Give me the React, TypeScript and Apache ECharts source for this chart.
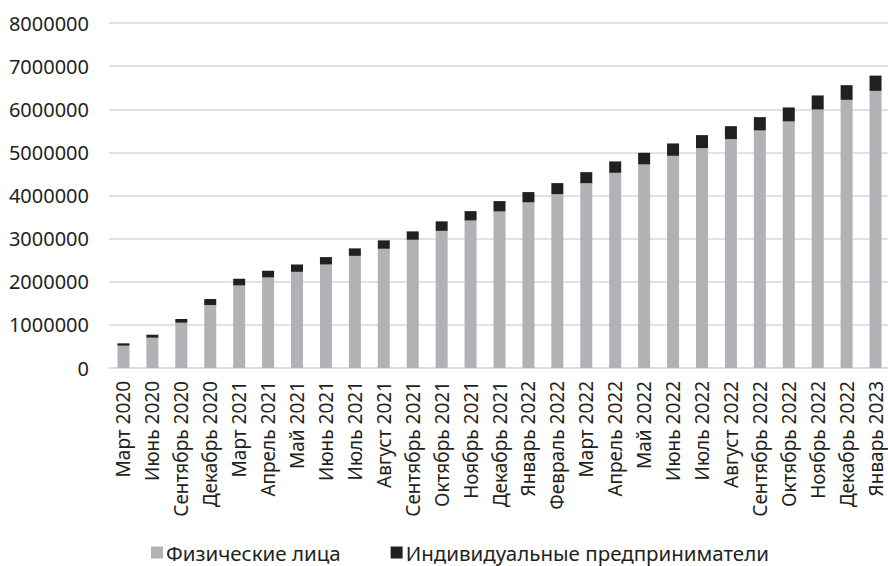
import React, { useEffect, useRef } from "react";
import * as echarts from "echarts";

const categories = [
  "Март 2020", "Июнь 2020", "Сентябрь 2020", "Декабрь 2020", "Март 2021", "Апрель 2021",
  "Май 2021", "Июнь 2021", "Июль 2021", "Август 2021", "Сентябрь 2021", "Октябрь 2021",
  "Ноябрь 2021", "Декабрь 2021", "Январь 2022", "Февраль 2022", "Март 2022", "Апрель 2022",
  "Май 2022", "Июнь 2022", "Июль 2022", "Август 2022", "Сентябрь 2022", "Октябрь 2022",
  "Ноябрь 2022", "Декабрь 2022", "Январь 2023",
];

const individuals = [
  517000, 702000, 1050000, 1460000, 1916000, 2100000, 2230000, 2400000, 2600000,
  2765000, 2974000, 3180000, 3420000, 3630000, 3840000, 4032000, 4287000, 4526000,
  4720000, 4920000, 5098000, 5307000, 5508000, 5717000, 5995000, 6218000, 6426000,
];

const entrepreneurs = [
  55000, 70000, 86000, 139000, 154000, 155000, 170000, 172000, 174000,
  195000, 194000, 220000, 218000, 240000, 239000, 255000, 255000, 264000,
  270000, 287000, 302000, 301000, 309000, 325000, 325000, 340000, 354000,
];

const seriesNames = ["Физические лица", "Индивидуальные предприниматели"];

const FONT = "Noto Sans";

export default function App() {
  const ref = useRef<HTMLDivElement>(null);
  useEffect(() => {
    if (!ref.current) return;
    const chart = echarts.init(ref.current, null, { renderer: "svg" });
    chart.setOption({
      animation: false,
      textStyle: { fontFamily: FONT },
      grid: { left: 109, right: 6, top: 23, bottom: 198, containLabel: false },
      legend: {
        left: 146,
        top: 537,
        itemWidth: 12,
        itemHeight: 12,
        itemGap: 50,
        icon: "rect",
        textStyle: {
          fontFamily: FONT,
          fontSize: 20.5,
          lineHeight: 18,
          color: "#231F20",
          padding: [0, 0, 0, -2],
        },
        data: seriesNames,
      },
      xAxis: {
        type: "category",
        data: categories,
        axisLine: { show: true, lineStyle: { color: "#D9D9D9", width: 1.5 } },
        axisTick: { show: false },
        axisLabel: {
          rotate: 90,
          interval: 0,
          margin: 13,
          fontFamily: FONT,
          fontSize: 19,
          lineHeight: 15,
          color: "#231F20",
        },
      },
      yAxis: {
        type: "value",
        min: 0,
        max: 8000000,
        interval: 1000000,
        axisLine: { show: false },
        axisTick: { show: false },
        splitLine: { lineStyle: { color: "#D9D9D9", width: 1.5 } },
        axisLabel: {
          margin: 20,
          fontFamily: FONT,
          fontSize: 20,
          color: "#231F20",
          formatter: (v: number) => String(v),
        },
      },
      series: [
        {
          name: seriesNames[0],
          type: "bar",
          stack: "total",
          barWidth: 12,
          data: individuals,
          itemStyle: { color: "#B1B2B6" },
        },
        {
          name: seriesNames[1],
          type: "bar",
          stack: "total",
          barWidth: 12,
          data: entrepreneurs,
          itemStyle: { color: "#231F20" },
        },
      ],
    });
    return () => chart.dispose();
  }, []);
  return (
    <div style={{ position: "absolute", left: 0, top: 0, width: 888, height: 566, overflow: "hidden", background: "#fff" }}>
      <div ref={ref} style={{ width: 896, height: 566 }} />
    </div>
  );
}
